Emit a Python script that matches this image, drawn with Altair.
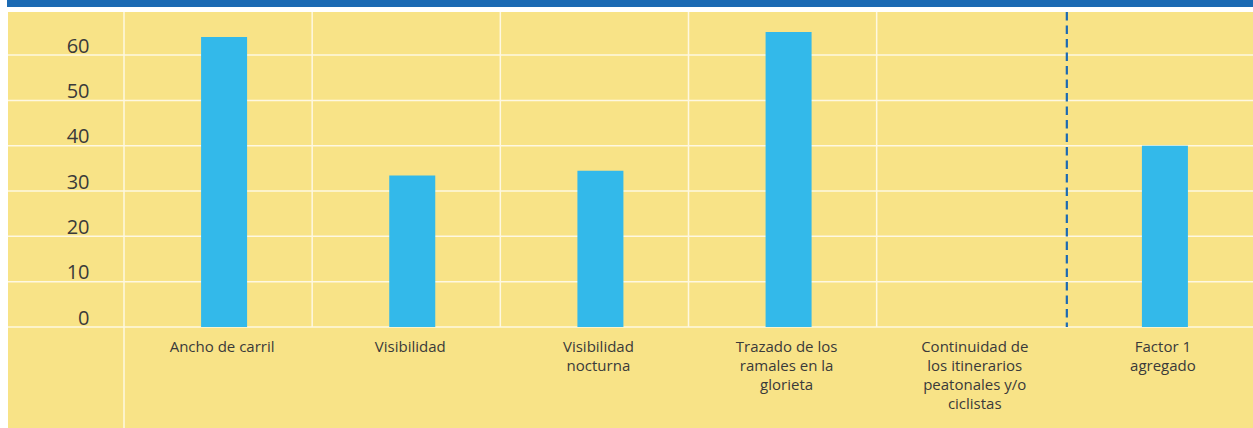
import altair as alt
import pandas as pd

# ---- data ----
categories = [
    "Ancho de carril",
    "Visibilidad",
    "Visibilidad\nnocturna",
    "Trazado de los\nramales en la\nglorieta",
    "Continuidad de\nlos itinerarios\npeatonales y/o\nciclistas",
    "Factor 1\nagregado",
]
values = [64.0, 33.4, 34.5, 65.1, 0.0, 40.0]
y_ticks = [0, 10, 20, 30, 40, 50, 60]
inner_grid_cats = categories[1:5]   # white column separators
full_grid_cats = categories[:1]     # separator that runs to the bottom
dashed_cats = categories[5:]        # dashed separator before the aggregate

W, H = 1129, 315
YELLOW = "#F8E387"
BLUE_BAND = "#1B6AB3"
BAR = "#33B9EA"
GRID = "#FEF8E1"
TXT = "#3A3A3A"
FONT = "Open Sans"

xscale = alt.Scale(domain=categories, paddingInner=0, paddingOuter=0)
yscale = alt.Scale(domain=[0, 69.5], nice=False, zero=True)

xaxis = alt.Axis(
    title=None, labelAngle=0, domain=False, ticks=False, grid=False,
    labelPadding=12, labelExpr="split(datum.label, '\\n')",
    labelFont=FONT, labelFontSize=15, labelColor=TXT, labelLineHeight=19,
    labelBaseline="top", labelOffset=4, labelLimit=300, zindex=2,
)
yaxis = alt.Axis(
    title=None, values=y_ticks, domain=False, ticks=False, grid=False,
    labelPadding=35, labelFont=FONT, labelFontSize=20, labelColor=TXT,
    labelBaseline="alphabetic", labelOffset=-3, zindex=2,
)

one = alt.Data(values=[{"k": 1}])

panel = alt.Chart(one).mark_rect(color=YELLOW).encode(
    x=alt.value(-116), x2=alt.value(W), y=alt.value(0), y2=alt.value(416)
)
band = alt.Chart(one).mark_rect(color=BLUE_BAND).encode(
    x=alt.value(-117), x2=alt.value(W), y=alt.value(-12), y2=alt.value(-5)
)

hgrid = alt.Chart(pd.DataFrame({"val": y_ticks})).mark_rule(
    color=GRID, strokeWidth=1.5
).encode(
    y=alt.Y("val:Q", scale=yscale, axis=yaxis),
    x=alt.value(-116), x2=alt.value(W),
)

vgrid = alt.Chart(pd.DataFrame({"cat": inner_grid_cats})).mark_rule(
    color=GRID, strokeWidth=1.5
).encode(
    x=alt.X("cat:N", scale=xscale, axis=xaxis, bandPosition=0),
    y=alt.value(0), y2=alt.value(H),
)

vgrid_full = alt.Chart(pd.DataFrame({"cat": full_grid_cats})).mark_rule(
    color=GRID, strokeWidth=1.5
).encode(
    x=alt.X("cat:N", scale=xscale, axis=xaxis, bandPosition=0),
    y=alt.value(0), y2=alt.value(416),
)

dashed = alt.Chart(pd.DataFrame({"cat": dashed_cats})).mark_rule(
    color=BLUE_BAND, strokeWidth=2.2, strokeDash=[8.5, 5], xOffset=2
).encode(
    x=alt.X("cat:N", scale=xscale, axis=xaxis, bandPosition=0),
    y=alt.value(0), y2=alt.value(H),
)

bars = alt.Chart(pd.DataFrame({"cat": categories, "val": values})).mark_bar(
    color=BAR, width=46, xOffset=6
).encode(
    x=alt.X("cat:N", scale=xscale, axis=xaxis, sort=categories),
    y=alt.Y("val:Q", scale=yscale, axis=yaxis),
)

chart = alt.layer(panel, band, hgrid, vgrid, vgrid_full, dashed, bars).properties(
    width=W, height=H,
    autosize=alt.AutoSizeParams(type="none"),
    padding={"left": 124, "top": 12, "right": 0, "bottom": 101},
    background="white",
).configure_view(stroke=None)

chart.save("out.html", embed_options={"renderer": "svg", "actions": False})
